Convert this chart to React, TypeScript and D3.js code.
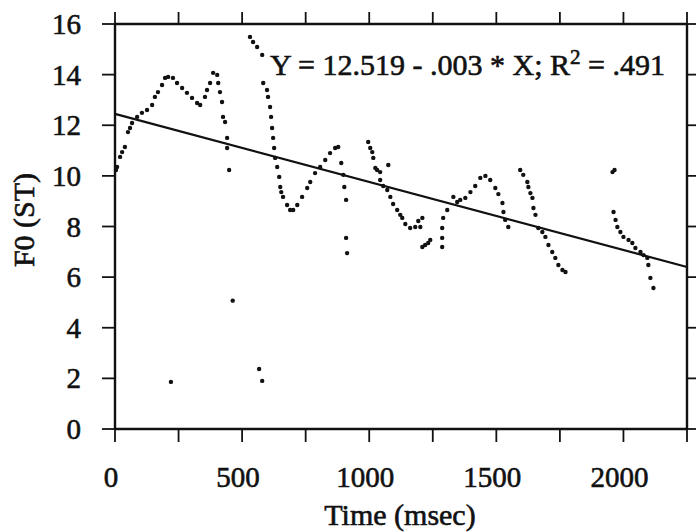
import React, { useEffect } from "react";
import * as d3 from "d3";

// F0 contour samples: time (ms), F0 (semitones)
const timeMs: number[] = [
  4, 8, 20, 28, 39, 51, 59, 67, 87, 106, 126, 146, 157, 169, 185, 197, 209, 228, 244, 264,
  283, 303, 323, 335, 354, 362, 374, 386, 402, 406, 413, 421, 425, 433, 441, 441, 449,
  220, 463, 567, 579,
  531, 543, 559, 579, 583, 598, 602, 610, 614, 618, 622, 626, 630, 638, 646, 650, 654, 661,
  677, 689, 701, 717, 736, 756, 768, 787, 807, 827, 846, 866, 878, 890, 898, 902, 909, 909, 913,
  996, 1004, 1012, 1016, 1024, 1031, 1043, 1075, 1043, 1055, 1071, 1083, 1094, 1110, 1122,
  1130, 1142, 1161, 1181, 1193, 1209, 1201, 1209, 1220, 1232, 1240, 1287, 1287, 1287, 1291,
  1307, 1331, 1346, 1358, 1378, 1398, 1417, 1437, 1457, 1476, 1496, 1508, 1524, 1528, 1535, 1547,
  1594, 1606, 1622, 1626, 1634, 1642, 1646, 1654, 1665, 1681, 1693, 1705, 1720, 1732, 1744, 1760, 1772,
  1957, 1965, 1961, 1969, 1976, 1988, 2000, 2020, 2035, 2047, 2067, 2079, 2094, 2098, 2106, 2118,
];
const f0St: number[] = [
  10.23, 10.35, 10.75, 10.94, 11.14, 11.73, 11.89, 12.09, 12.33, 12.49, 12.6, 12.8, 13.12, 13.31,
  13.59, 13.87, 13.91, 13.87, 13.67, 13.47, 13.28, 13.08, 12.88, 12.8, 13.12, 13.39, 13.67, 14.07,
  13.99, 13.67, 13.31, 12.92, 12.33, 12.13, 11.5, 11.1, 10.23,
  1.86, 5.07, 2.37, 1.9,
  15.49, 15.29, 15.09, 14.78, 13.67, 13.39, 13.12, 12.72, 12.33, 11.89, 11.5, 11.1, 10.71, 10.35,
  9.96, 9.56, 9.36, 9.17, 8.85, 8.65, 8.65, 8.85, 9.17, 9.52, 9.76, 10.11, 10.35, 10.63, 10.9,
  11.1, 11.14, 10.51, 10.04, 9.56, 9.05, 7.55, 6.95,
  11.34, 11.1, 10.94, 10.71, 10.31, 10.23, 10.15, 10.43, 9.84, 9.6, 9.44, 9.17, 8.89, 8.65, 8.46,
  8.34, 8.1, 7.94, 7.98, 8.22, 8.34, 7.98, 7.19, 7.27, 7.35, 7.47, 7.19, 7.55, 7.94, 8.34,
  8.65, 9.17, 8.97, 9.05, 9.13, 9.36, 9.6, 9.92, 10.0, 9.84, 9.52, 9.28, 8.93, 8.57, 8.26, 7.98,
  10.23, 10.04, 9.76, 9.56, 9.32, 9.13, 8.73, 8.46, 7.94, 7.78, 7.59, 7.27, 6.99, 6.76, 6.48, 6.28, 6.2,
  10.15, 10.23, 8.57, 8.26, 7.98, 7.78, 7.59, 7.47, 7.35, 7.15, 6.99, 6.87, 6.76, 6.48, 5.97, 5.57,
];

// Regression line as drawn (endpoints)
const regTime: number[] = [0, 2250];
const regF0: number[] = [12.45, 6.4];

const xTickValues: number[] = [0, 250, 500, 750, 1000, 1250, 1500, 1750, 2000, 2250];
const xTickLabels: number[] = [0, 500, 1000, 1500, 2000];
const yTickValues: number[] = [0, 2, 4, 6, 8, 10, 12, 14, 16];

const xTitle = "Time (msec)";
const yTitle = "F0 (ST)";

export default function App() {
  useEffect(() => {
    document.body.style.margin = "0";
  }, []);

  const W = 696;
  const H = 532;
  const left = 115;
  const right = 687;
  const top = 24;
  const bottom = 429;

  const x = d3.scaleLinear().domain([0, 2250]).range([left, right]);
  const y = d3.scaleLinear().domain([0, 16]).range([bottom, top]);

  const points = timeMs.map((t, i) => ({ t, v: f0St[i] }));
  const reg = regTime.map((t, i) => ({ t, v: regF0[i] }));
  const line = d3
    .line<{ t: number; v: number }>()
    .x((d) => x(d.t))
    .y((d) => y(d.v));

  const font = "'Liberation Serif', 'Times New Roman', serif";
  const tickLen = 13;
  const ink = "#111";

  return (
    <svg width={W} height={H} style={{ display: "block", background: "#fff" }}>
      <rect x={0} y={0} width={W} height={H} fill="#fff" />
      {/* frame */}
      <g stroke={ink} strokeWidth={2.4} fill="none">
        <line x1={left} x2={right} y1={top} y2={top} />
        <line x1={left} x2={right} y1={bottom} y2={bottom} />
        <line x1={left} x2={left} y1={top} y2={bottom} />
        <line x1={right} x2={right} y1={top} y2={bottom} />
      </g>
      {/* ticks */}
      <g stroke={ink} strokeWidth={1.8}>
        {xTickValues.map((t) => (
          <g key={"xt" + t}>
            <line x1={x(t)} x2={x(t)} y1={top} y2={top - tickLen + 1} />
            <line x1={x(t)} x2={x(t)} y1={bottom} y2={bottom + tickLen} />
          </g>
        ))}
        {yTickValues.map((v) => (
          <g key={"yt" + v}>
            <line x1={left} x2={left - tickLen} y1={y(v)} y2={y(v)} />
            <line x1={right} x2={right + tickLen} y1={y(v)} y2={y(v)} />
          </g>
        ))}
      </g>
      {/* tick labels */}
      <g fontFamily={font} fontSize={29} fill={ink} stroke={ink} strokeWidth={0.6}>
        {xTickLabels.map((t) => (
          <text key={"xl" + t} x={x(t) - 4} y={487} textAnchor="middle">
            {t}
          </text>
        ))}
        {yTickValues.map((v) => (
          <text key={"yl" + v} x={81} y={y(v) + 10} textAnchor="end">
            {v}
          </text>
        ))}
      </g>
      {/* axis titles */}
      <text
        x={400}
        y={525}
        textAnchor="middle"
        fontFamily={font}
        fontSize={30}
        fill={ink}
        stroke={ink}
        strokeWidth={0.6}
      >
        {xTitle}
      </text>
      <text
        transform={`translate(34,220) rotate(-90)`}
        textAnchor="middle"
        fontFamily={font}
        fontSize={30}
        fill={ink}
        stroke={ink}
        strokeWidth={0.6}
      >
        {yTitle}
      </text>
      {/* regression line */}
      <path d={line(reg) || ""} stroke={ink} strokeWidth={2.2} fill="none" />
      {/* data points */}
      <g fill={ink}>
        {points.map((p, i) => (
          <circle key={i} cx={x(p.t)} cy={y(p.v)} r={2.2} />
        ))}
      </g>
      {/* equation */}
      <text
        x={270}
        y={75}
        fontFamily={font}
        fontSize={30}
        fill={ink}
        stroke={ink}
        strokeWidth={0.6}
      >
        Y = 12.519 - .003 * X; R
        <tspan fontSize={21} dy={-11}>2</tspan>
        <tspan dy={11}> = .491</tspan>
      </text>
    </svg>
  );
}
